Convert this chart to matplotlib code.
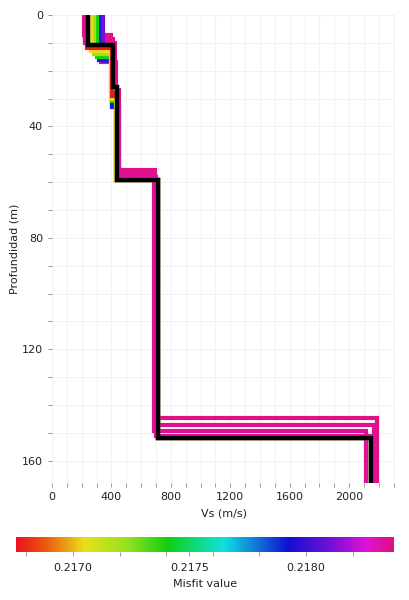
import numpy as np
import matplotlib
matplotlib.use("Agg")
import matplotlib.pyplot as plt
from matplotlib.colors import LinearSegmentedColormap, Normalize
from matplotlib.cm import ScalarMappable
from matplotlib.ticker import MultipleLocator, FixedLocator

# misfit of each profile, worst first (drawn first), best last
misfit = [0.21836, 0.21835, 0.21834, 0.21833, 0.21810, 0.21790, 0.21740, 0.21720, 0.21705, 0.21678]
# Vs of layer 1..4 and half-space (m/s)
vs1 = [216, 222, 225, 330, 340, 318, 302, 284, 260, 232]
vs2 = [395, 410, 425, 430, 405, 405, 405, 410, 400, 405]
vs3 = [448, 445, 442, 450, 432, 430, 435, 440, 432, 436]
vs4 = [690, 695, 685, 700, 712, 712, 715, 715, 712, 715]
vs5 = [2190, 2170, 2110, 2160, 2150, 2148, 2150, 2150, 2150, 2148]
# depth of the bottom of layer 1..4 (m)
z1 = [7.0, 8.5, 10.0, 17.0, 16.5, 16.0, 15.0, 14.0, 13.0, 12.0]
z2 = [27.0, 28.0, 30.0, 33.0, 32.0, 33.0, 31.0, 26.5, 30.0, 29.0]
z3 = [55.8, 57.0, 57.5, 58.0, 59.2, 59.2, 59.1, 59.2, 59.2, 59.3]
z4 = [144.7, 147.2, 149.4, 151.2, 152.0, 152.0, 152.0, 152.0, 152.0, 152.0]

# best model (black)
best_vs = [245, 410, 435, 715, 2150]
best_z = [10.8, 26.0, 59.2, 152.0]

zmax = 168
vmin, vmax = 0.216756, 0.218377

cmap = LinearSegmentedColormap.from_list("misfit", [
    (0.00, "#e8141c"), (0.08, "#ee5a10"), (0.18, "#e8e01a"), (0.30, "#90e020"),
    (0.40, "#10d010"), (0.55, "#10e0e0"), (0.72, "#1010d0"), (0.83, "#7010d8"),
    (0.93, "#e010d8"), (1.00, "#e0107a")])
norm = Normalize(vmin, vmax)


def steps(v, z):
    zz = [0]
    vv = [v[0]]
    for i in range(len(z)):
        zz += [z[i], z[i]]
        vv += [v[i], v[i + 1]]
    zz.append(zmax)
    vv.append(v[-1])
    return vv, zz


txt = "#222222"
plt.rcParams["font.family"] = ["DejaVu Sans"]
plt.rcParams["font.size"] = 8

fig = plt.figure(figsize=(4.1, 6.0), dpi=100)
ax = fig.add_axes([0.127, 0.195, 0.837, 0.78])

for i in range(len(misfit)):
    vv, zz = steps([vs1[i], vs2[i], vs3[i], vs4[i], vs5[i]], [z1[i], z2[i], z3[i], z4[i]])
    ax.plot(vv, zz, color=cmap(norm(misfit[i])), lw=3.0, solid_joinstyle="miter")

vv, zz = steps(best_vs, best_z)
ax.plot(vv, zz, color="black", lw=3.2, solid_joinstyle="miter")

ax.set_xlim(0, 2310)
ax.set_ylim(zmax, 0)
ax.xaxis.set_major_locator(MultipleLocator(400))
ax.xaxis.set_minor_locator(MultipleLocator(100))
ax.yaxis.set_major_locator(MultipleLocator(40))
ax.yaxis.set_minor_locator(MultipleLocator(10))
ax.grid(True, which="both", color="#f2f2f2", lw=0.8)
ax.set_axisbelow(True)
for s in ax.spines.values():
    s.set_visible(False)
ax.tick_params(which="both", colors="#999999", labelcolor=txt, length=3, width=0.7, labelsize=8)
ax.set_xlabel("Vs (m/s)", color=txt, fontsize=8, labelpad=5)
ax.set_ylabel("Profundidad (m)", color=txt, fontsize=8, labelpad=2)

cax = fig.add_axes([0.039, 0.08, 0.922, 0.025])
cb = fig.colorbar(ScalarMappable(norm=norm, cmap=cmap), cax=cax, orientation="horizontal")
cb.outline.set_visible(False)
cb.set_ticks([0.2170, 0.2175, 0.2180])
cb.set_ticklabels(["0.2170", "0.2175", "0.2180"])
cax.xaxis.set_minor_locator(FixedLocator(np.arange(0.2168, 0.21835, 0.0002)))
cax.tick_params(which="both", colors="#999999", labelcolor=txt, length=3, width=0.7, labelsize=8, pad=5)
cb.set_label("Misfit value", color=txt, fontsize=8)

fig.savefig("out.png", dpi=100)
